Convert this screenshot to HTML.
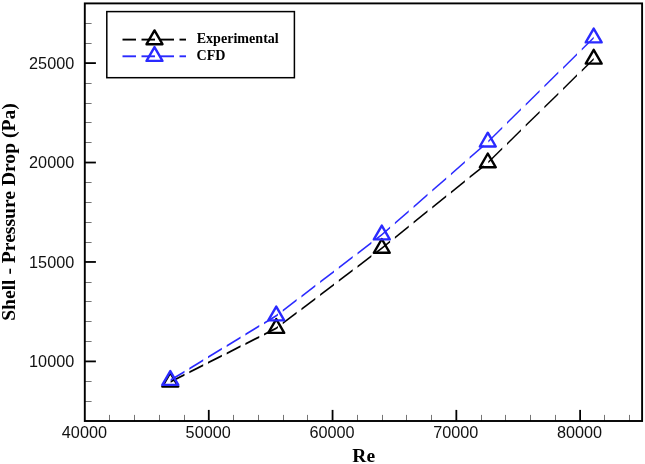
<!DOCTYPE html>
<html lang="en"><head><meta charset="utf-8"><title>Shell - Pressure Drop vs Re</title>
<style>html,body{margin:0;padding:0;background:#fff}svg{display:block}</style></head>
<body>
<svg width="645" height="464" viewBox="0 0 645 464">
<rect width="645" height="464" fill="#fff"/>
<g stroke="#000" stroke-width="0.9" opacity="0.6"><line x1="84.8" y1="401.5" x2="91.6" y2="401.5"/><line x1="84.8" y1="381.5" x2="91.6" y2="381.5"/><line x1="84.8" y1="341.5" x2="91.6" y2="341.5"/><line x1="84.8" y1="321.5" x2="91.6" y2="321.5"/><line x1="84.8" y1="301.5" x2="91.6" y2="301.5"/><line x1="84.8" y1="282.5" x2="91.6" y2="282.5"/><line x1="84.8" y1="242.5" x2="91.6" y2="242.5"/><line x1="84.8" y1="222.5" x2="91.6" y2="222.5"/><line x1="84.8" y1="202.5" x2="91.6" y2="202.5"/><line x1="84.8" y1="182.5" x2="91.6" y2="182.5"/><line x1="84.8" y1="142.5" x2="91.6" y2="142.5"/><line x1="84.8" y1="122.5" x2="91.6" y2="122.5"/><line x1="84.8" y1="103.5" x2="91.6" y2="103.5"/><line x1="84.8" y1="83.5" x2="91.6" y2="83.5"/><line x1="84.8" y1="43.5" x2="91.6" y2="43.5"/><line x1="84.8" y1="23.5" x2="91.6" y2="23.5"/><line x1="109.5" y1="421" x2="109.5" y2="414.9"/><line x1="134.5" y1="421" x2="134.5" y2="414.9"/><line x1="159.5" y1="421" x2="159.5" y2="414.9"/><line x1="184.5" y1="421" x2="184.5" y2="414.9"/><line x1="233.5" y1="421" x2="233.5" y2="414.9"/><line x1="258.5" y1="421" x2="258.5" y2="414.9"/><line x1="283.5" y1="421" x2="283.5" y2="414.9"/><line x1="307.5" y1="421" x2="307.5" y2="414.9"/><line x1="357.5" y1="421" x2="357.5" y2="414.9"/><line x1="382.5" y1="421" x2="382.5" y2="414.9"/><line x1="406.5" y1="421" x2="406.5" y2="414.9"/><line x1="431.5" y1="421" x2="431.5" y2="414.9"/><line x1="481.5" y1="421" x2="481.5" y2="414.9"/><line x1="505.5" y1="421" x2="505.5" y2="414.9"/><line x1="530.5" y1="421" x2="530.5" y2="414.9"/><line x1="555.5" y1="421" x2="555.5" y2="414.9"/><line x1="604.5" y1="421" x2="604.5" y2="414.9"/><line x1="629.5" y1="421" x2="629.5" y2="414.9"/></g>
<g stroke="#000" stroke-width="1.8"><line x1="84.8" y1="361.4" x2="95.9" y2="361.4"/><line x1="84.8" y1="261.96" x2="95.9" y2="261.96"/><line x1="84.8" y1="162.53" x2="95.9" y2="162.53"/><line x1="84.8" y1="63.1" x2="95.9" y2="63.1"/><line x1="208.78" y1="421" x2="208.78" y2="409.9"/><line x1="332.56" y1="421" x2="332.56" y2="409.9"/><line x1="456.34" y1="421" x2="456.34" y2="409.9"/><line x1="580.12" y1="421" x2="580.12" y2="409.9"/></g>
<rect x="84.8" y="3.4" width="557.3" height="417.6" fill="none" stroke="#000" stroke-width="1.9"/>
<g font-family="'Liberation Sans',Arial,Helvetica,sans-serif" font-size="16" fill="#111"><text x="29.1" y="367" textLength="45.1" lengthAdjust="spacingAndGlyphs">10000</text><text x="29.1" y="267.56" textLength="45.1" lengthAdjust="spacingAndGlyphs">15000</text><text x="29.1" y="168.13" textLength="45.1" lengthAdjust="spacingAndGlyphs">20000</text><text x="29.1" y="68.7" textLength="45.1" lengthAdjust="spacingAndGlyphs">25000</text><text x="61.85" y="437.6" textLength="45.1" lengthAdjust="spacingAndGlyphs">40000</text><text x="185.63" y="437.6" textLength="45.1" lengthAdjust="spacingAndGlyphs">50000</text><text x="309.41" y="437.6" textLength="45.1" lengthAdjust="spacingAndGlyphs">60000</text><text x="433.19" y="437.6" textLength="45.1" lengthAdjust="spacingAndGlyphs">70000</text><text x="556.97" y="437.6" textLength="45.1" lengthAdjust="spacingAndGlyphs">80000</text></g>
<g font-family="'Liberation Serif','Times New Roman',Times,serif" font-weight="bold" fill="#000">
<text x="363.7" y="461.9" font-size="19.5" text-anchor="middle">Re</text>
<text transform="translate(15.2 212.05) rotate(-90)" font-size="19.4" text-anchor="middle" textLength="217.6" lengthAdjust="spacingAndGlyphs">Shell - Pressure Drop (Pa)</text>
<text x="196.7" y="43.3" font-size="13.8" textLength="82.1" lengthAdjust="spacingAndGlyphs">Experimental</text>
<text x="196.5" y="60.1" font-size="13.8" textLength="29" lengthAdjust="spacingAndGlyphs">CFD</text>
</g>
<rect x="106.8" y="11.6" width="187.6" height="66.1" fill="none" stroke="#000" stroke-width="1.5"/>
<g stroke="#000" stroke-width="1.9"><line x1="122.5" y1="39.6" x2="136" y2="39.6"/><line x1="141.5" y1="39.6" x2="155" y2="39.6"/><line x1="160.5" y1="39.6" x2="174" y2="39.6"/><line x1="179.5" y1="39.6" x2="186" y2="39.6"/></g>
<g fill="none" stroke="#000" stroke-width="2.4" stroke-linejoin="round"><path d="M154.5 30.4L162.47 44.2L146.53 44.2Z"/></g>
<g stroke="#2a2aff" stroke-width="1.9"><line x1="122.5" y1="56.3" x2="136" y2="56.3"/><line x1="141.5" y1="56.3" x2="155" y2="56.3"/><line x1="160.5" y1="56.3" x2="174" y2="56.3"/><line x1="179.5" y1="56.3" x2="186" y2="56.3"/></g>
<g fill="none" stroke="#2a2aff" stroke-width="2.4" stroke-linejoin="round"><path d="M154.5 47.1L162.47 60.9L146.53 60.9Z"/></g>
<g fill="#000"><polygon points="170.6,380.75 184.5,373.72 184.5,375.72 170.6,382.75"/><polygon points="189.29,371.29 203.19,364.26 203.19,366.26 189.29,373.29"/><polygon points="207.98,361.84 221.88,354.81 221.88,356.81 207.98,363.84"/><polygon points="226.67,352.38 240.57,345.35 240.57,347.35 226.67,354.38"/><polygon points="245.36,342.93 259.26,335.9 259.26,337.9 245.36,344.93"/><polygon points="264.05,333.47 276.25,327.3 277.95,326.01 277.95,328.01 276.25,329.3 264.05,335.47"/><polygon points="282.74,322.37 296.64,311.83 296.64,313.83 282.74,324.37"/><polygon points="301.43,308.19 315.33,297.64 315.33,299.64 301.43,310.19"/><polygon points="320.12,294.01 334.02,283.46 334.02,285.46 320.12,296.01"/><polygon points="338.81,279.82 352.71,269.28 352.71,271.28 338.81,281.82"/><polygon points="357.5,265.64 371.4,255.09 371.4,257.09 357.5,267.64"/><polygon points="376.19,251.46 381.8,247.2 390.09,240.51 390.09,242.51 381.8,249.2 376.19,253.46"/><polygon points="394.88,236.65 408.78,225.44 408.78,227.44 394.88,238.65"/><polygon points="413.57,221.57 427.47,210.36 427.47,212.36 413.57,223.57"/><polygon points="432.26,206.5 446.16,195.29 446.16,197.29 432.26,208.5"/><polygon points="450.95,191.42 464.85,180.21 464.85,182.21 450.95,193.42"/><polygon points="469.64,176.35 483.54,165.14 483.54,167.14 469.64,178.35"/><polygon points="488.33,161.18 502.23,147.57 502.23,149.57 488.33,163.18"/><polygon points="507.02,142.88 520.92,129.27 520.92,131.27 507.02,144.88"/><polygon points="525.71,124.58 539.61,110.97 539.61,112.97 525.71,126.58"/><polygon points="544.4,106.28 558.3,92.66 558.3,94.66 544.4,108.28"/><polygon points="563.09,87.97 576.99,74.36 576.99,76.36 563.09,89.97"/><polygon points="581.78,69.67 593.7,58 593.7,60 581.78,71.67"/></g>
<g fill="none" stroke="#000" stroke-width="2.4" stroke-linejoin="round"><path d="M170.3 372.7L178.27 386.5L162.33 386.5Z"/><path d="M276.25 319.1L284.22 332.9L268.28 332.9Z"/><path d="M381.8 239L389.77 252.8L373.83 252.8Z"/><path d="M487.8 153.5L495.77 167.3L479.83 167.3Z"/><path d="M593.7 49.8L601.67 63.6L585.73 63.6Z"/></g>
<g fill="#2a2aff"><polygon points="170.6,379.12 184.5,370.65 184.5,372.65 170.6,381.12"/><polygon points="189.29,367.73 203.19,359.26 203.19,361.26 189.29,369.73"/><polygon points="207.98,356.34 221.88,347.87 221.88,349.87 207.98,358.34"/><polygon points="226.67,344.96 240.57,336.49 240.57,338.49 226.67,346.96"/><polygon points="245.36,333.57 259.26,325.1 259.26,327.1 245.36,335.57"/><polygon points="264.05,322.18 276.25,314.75 277.95,313.45 277.95,315.45 276.25,316.75 264.05,324.18"/><polygon points="282.74,309.77 296.64,299.11 296.64,301.11 282.74,311.77"/><polygon points="301.43,295.44 315.33,284.78 315.33,286.78 301.43,297.44"/><polygon points="320.12,281.1 334.02,270.44 334.02,272.44 320.12,283.1"/><polygon points="338.81,266.77 352.71,256.11 352.71,258.11 338.81,268.77"/><polygon points="357.5,252.44 371.4,241.78 371.4,243.78 357.5,254.44"/><polygon points="376.19,238.1 381.8,233.8 390.09,226.53 390.09,228.53 381.8,235.8 376.19,240.1"/><polygon points="394.88,222.34 408.78,210.15 408.78,212.15 394.88,224.34"/><polygon points="413.57,205.96 427.47,193.77 427.47,195.77 413.57,207.96"/><polygon points="432.26,189.58 446.16,177.39 446.16,179.39 432.26,191.58"/><polygon points="450.95,173.2 464.85,161.01 464.85,163.01 450.95,175.2"/><polygon points="469.64,156.82 483.54,144.63 483.54,146.63 469.64,158.82"/><polygon points="488.33,140.38 502.23,126.72 502.23,128.72 488.33,142.38"/><polygon points="507.02,122.01 520.92,108.34 520.92,110.34 507.02,124.01"/><polygon points="525.71,103.63 539.61,89.97 539.61,91.97 525.71,105.63"/><polygon points="544.4,85.26 558.3,71.6 558.3,73.6 544.4,87.26"/><polygon points="563.09,66.89 576.99,53.23 576.99,55.23 563.09,68.89"/><polygon points="581.78,48.52 593.7,36.8 593.7,38.8 581.78,50.52"/></g>
<g fill="none" stroke="#2a2aff" stroke-width="2.4" stroke-linejoin="round"><path d="M170.3 371.1L178.27 384.9L162.33 384.9Z"/><path d="M276.25 306.55L284.22 320.35L268.28 320.35Z"/><path d="M381.8 225.6L389.77 239.4L373.83 239.4Z"/><path d="M487.8 132.7L495.77 146.5L479.83 146.5Z"/><path d="M593.7 28.6L601.67 42.4L585.73 42.4Z"/></g>
</svg>
</body></html>
